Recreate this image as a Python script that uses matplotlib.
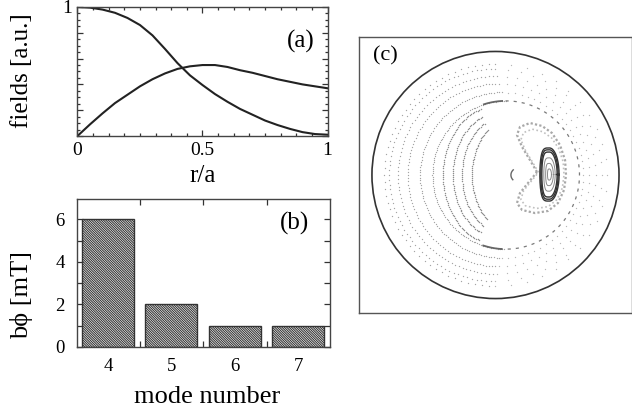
import numpy as np
import matplotlib
matplotlib.use('Agg')
import matplotlib.pyplot as plt
from matplotlib.patches import Circle
from matplotlib.ticker import MultipleLocator

plt.rcParams['font.family'] = ['Liberation Serif', 'DejaVu Serif']
plt.rcParams['hatch.linewidth'] = 0.75

# ---- dados painel (a): perfis radiais
r_a = [0.0, 0.05, 0.1, 0.15, 0.2, 0.25, 0.3, 0.35, 0.4, 0.45, 0.5,
       0.55, 0.6, 0.65, 0.7, 0.75, 0.8, 0.85, 0.9, 0.95, 1.0]
campo_dec = [1.0, 0.995, 0.98, 0.955, 0.915, 0.86, 0.78, 0.675, 0.565, 0.47, 0.395,
             0.325, 0.265, 0.21, 0.165, 0.12, 0.085, 0.055, 0.03, 0.015, 0.01]
campo_cre = [0.0, 0.09, 0.175, 0.255, 0.32, 0.385, 0.44, 0.485, 0.52, 0.54, 0.55,
             0.55, 0.535, 0.51, 0.49, 0.465, 0.44, 0.42, 0.40, 0.385, 0.37]

# ---- dados painel (b): espectro de modos
modos = [4, 5, 6, 7]
b_phi = [6, 2, 1, 1]

# ---- dados painel (c): secao de Poincare (unidades de r/a)
# superficies fechadas: extremo esquerdo, extremo direito, meia altura
casca_esq = [-0.90, -0.86, -0.79, -0.71, -0.61, -0.51]
casca_dir = [0.90, 0.86, 0.81, 0.76, 0.71, 0.68]
casca_alt = [0.90, 0.86, 0.80, 0.74, 0.67, 0.60]
casca_n_esq = [50, 70, 80, 90, 100, 110]
casca_n_dir = [22, 26, 30, 34, 38, 0]
# arcos em C do lado esquerdo
arco_esq = [-0.425, -0.345, -0.27, -0.19]
arco_dir = [0.40, 0.38, 0.36, 0.34]
arco_alt = [0.55, 0.50, 0.46, 0.42]
arco_abertura = [150, 140, 130, 120]
arco_n = [80, 70, 60, 55]
# banda caotica (separatriz) em volta da ilha
sep_u = [0.336, 0.279, 0.215, 0.174, 0.198, 0.279, 0.377, 0.457, 0.522, 0.563,
         0.571, 0.555, 0.506, 0.425, 0.320, 0.215, 0.174, 0.198, 0.263, 0.336]
sep_v = [0.024, 0.121, 0.227, 0.324, 0.389, 0.421, 0.397, 0.340, 0.243, 0.121,
         0.0, -0.121, -0.227, -0.291, -0.308, -0.283, -0.227, -0.146, -0.065, 0.024]
# ilha: centro e semi-eixos das curvas aninhadas
ilha_u, ilha_v = 0.437, 0.004
ilha_a = [0.078, 0.070, 0.062, 0.046, 0.031, 0.016]
ilha_b = [0.215, 0.200, 0.182, 0.135, 0.090, 0.045]


fig = plt.figure(figsize=(6.32, 4.09), dpi=100)

# ================= painel (a)
ax1 = fig.add_axes([0.1226, 0.6675, 0.3956, 0.3154])
ax1.plot(r_a, campo_dec, color='#222222', lw=1.5)
ax1.plot(r_a, campo_cre, color='#222222', lw=1.5)
ax1.set_xlim(0, 1)
ax1.set_ylim(0, 1)
ax1.set_xticks([0, 0.5, 1])
ax1.set_xticklabels(['0', '0.5', '1'])
ax1.xaxis.set_minor_locator(MultipleLocator(0.0625))
ax1.set_yticks([0, 0.2, 0.4, 0.6, 0.8, 1.0])
ax1.set_yticklabels(['', '', '', '', '', '1'])
ax1.yaxis.set_minor_locator(MultipleLocator(0.05))
ax1.tick_params(which='both', direction='in', top=True, right=True, width=0.9, colors='#333333')
ax1.tick_params(which='major', length=4.5, labelsize=14, labelcolor='black', pad=4)
ax1.tick_params(which='minor', length=2.5)
ax1.set_xlabel('r/a', fontsize=18)
ax1.xaxis.set_label_coords(0.502, -0.31)
ax1.xaxis.label.set_va('center')
ax1.set_ylabel('fields [a.u.]', fontsize=18)
ax1.yaxis.set_label_coords(-0.222, 0.51)
ax1.yaxis.label.set_va('center')
ax1.text(0.894, 0.736, '(a)', transform=ax1.transAxes, fontsize=18, ha='center', va='center')

# ================= painel (b)
ax2 = fig.add_axes([0.1226, 0.1516, 0.3995, 0.3619])
ax2.bar(modos, b_phi, width=0.82, color='white', edgecolor='#333333', lw=1.0,
        hatch='\\' * 14)
ax2.set_xlim(3.52, 7.5)
ax2.set_ylim(0, 6.95)
ax2.set_xticks(modos)
ax2.set_xticks([4.5, 5.5, 6.5], minor=True)
ax2.set_yticks([0, 2, 4, 6])
ax2.yaxis.set_minor_locator(MultipleLocator(1))
ax2.tick_params(which='both', direction='in', top=True, right=True, width=0.9, colors='#333333')
ax2.tick_params(axis='x', which='major', length=0, labelsize=13.5, labelcolor='black', pad=8)
ax2.tick_params(axis='y', which='major', length=4.5, labelsize=13.5, labelcolor='black', pad=9)
ax2.tick_params(which='minor', length=4.5)
ax2.set_xlabel('mode number', fontsize=19)
ax2.xaxis.set_label_coords(0.513, -0.338)
ax2.xaxis.label.set_va('center')
ax2.set_ylabel('b\u03d5 [mT]', fontsize=19)
ax2.yaxis.set_label_coords(-0.22, 0.35)
ax2.yaxis.label.set_va('center')
ax2.text(0.861, 0.838, '(b)', transform=ax2.transAxes, fontsize=18, ha='center', va='center')

for ax in (ax1, ax2):
    for s in ax.spines.values():
        s.set_color('#444444')
        s.set_linewidth(1.0)

# ================= painel (c)
ax3 = fig.add_axes([0.568, 0.2347, 0.432, 0.6748])
ax3.set_xlim(-1.105, 1.105)
ax3.set_ylim(-1.117, 1.117)
ax3.set_xticks([])
ax3.set_yticks([])
for s in ax3.spines.values():
    s.set_color('#555555')
    s.set_linewidth(1.0)


def casca(esq, dir_, alt, t0, t1, n):
    cx = (esq + dir_) / 2
    a = (dir_ - esq) / 2
    t = np.radians(np.linspace(t0, t1, n, endpoint=False))
    return cx + a * np.cos(t), alt * np.sin(t)


# superficies externas
for i in range(len(casca_esq)):
    x, y = casca(casca_esq[i], casca_dir[i], casca_alt[i], 90, 270, casca_n_esq[i])
    ax3.scatter(x, y, s=0.9, color='#a4a4a4', lw=0)
    if casca_n_dir[i] > 0:
        x, y = casca(casca_esq[i], casca_dir[i], casca_alt[i], -90, 90, casca_n_dir[i])
        ax3.scatter(x, y, s=0.9, color='#b8b8b8', lw=0)

# superficie tracejada em volta da ilha (ultima casca)
x, y = casca(casca_esq[-1], casca_dir[-1], casca_alt[-1], -95, 95, 200)
ax3.plot(x, y, color='#7a7a7a', lw=0.9, ls=(0, (2.5, 4)))
x, y = casca(casca_esq[-1], casca_dir[-1], casca_alt[-1], 93, 108, 30)
ax3.plot(x, y, color='#666666', lw=1.3)
x, y = casca(casca_esq[-1], casca_dir[-1], casca_alt[-1], 252, 267, 30)
ax3.plot(x, y, color='#666666', lw=1.3)

# arcos em C
for i in range(len(arco_esq)):
    h = arco_abertura[i] / 2
    x, y = casca(arco_esq[i], arco_dir[i], arco_alt[i], 180 - h, 180 + h, arco_n[i])
    ax3.scatter(x, y, s=1.1, color='#8e8e8e', lw=0)

# traco central
x, y = casca(0.125, 0.285, 0.065, 140, 220, 20)
ax3.plot(x, y, color='#666666', lw=1.0)

# banda caotica
ax3.plot(sep_u, sep_v, color='#a8a8a8', lw=1.6, ls=(0, (1, 1)))
su = ilha_u + 0.88 * (np.array(sep_u) - ilha_u)
sv = ilha_v + 0.88 * (np.array(sep_v) - ilha_v)
ax3.plot(su, sv, color='#c0c0c0', lw=1.2, ls=(0, (1, 1.5)))

# ilha (curvas aninhadas em forma de D)
t = np.linspace(0, 2 * np.pi, 200)
for k in range(len(ilha_a)):
    c = np.cos(t)
    sn = np.sin(t)
    p = np.where(c < 0, 0.45, 1.0)
    xu = ilha_u + ilha_a[k] * np.sign(c) * np.abs(c) ** p
    yv = ilha_v + ilha_b[k] * sn
    escuro = k < 3
    ax3.plot(xu, yv, color='#333333' if escuro else '#888888', lw=1.0 if escuro else 0.7)

ax3.add_patch(Circle((0, 0), 1.0, fill=False, ec='#333333', lw=1.2))
ax3.text(-0.89, 0.968, '(c)', fontsize=16, ha='center', va='center')

fig.savefig('out.png', dpi=100)
